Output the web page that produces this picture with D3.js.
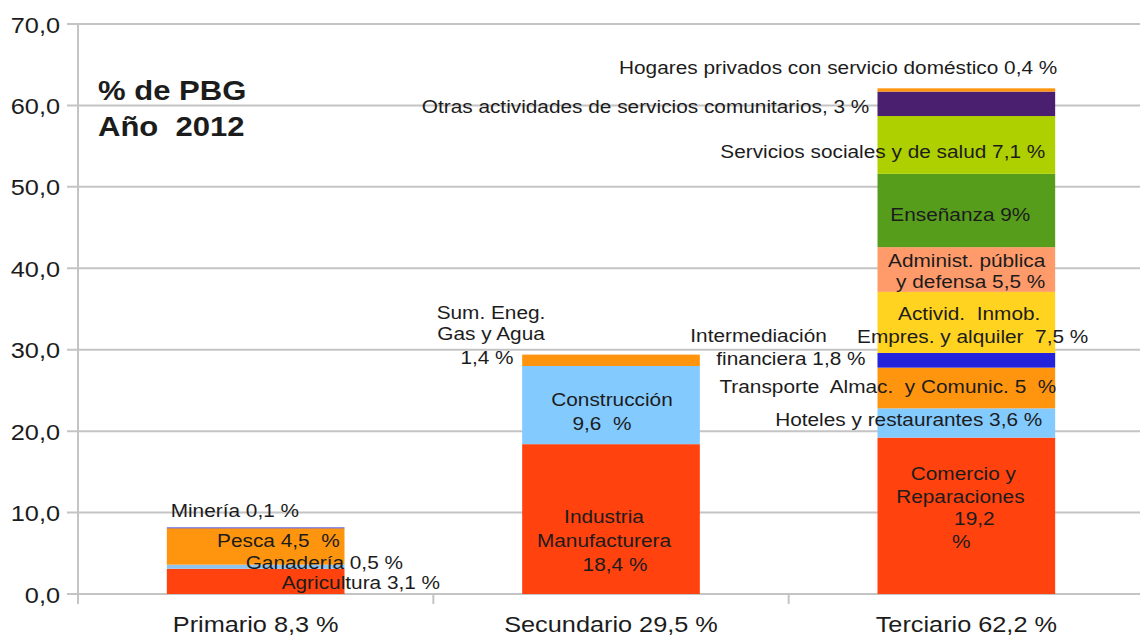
<!DOCTYPE html>
<html>
<head>
<meta charset="utf-8">
<script src="https://cdn.jsdelivr.net/npm/d3@7"></script>
<style>
  body { margin: 0; background: #fff; }
  svg text { font-family: "Liberation Sans", Arial, sans-serif; fill: #1c1c1c; white-space: pre; }
</style>
</head>
<body>
<div id="chart"></div>
<script>
// data
var categories = ['Primario 8,3 %', 'Secundario 29,5 %', 'Terciario 62,2 %'];

var primario = ['Agricultura', 'Ganadería', 'Pesca', 'Minería'];
var primarioValues = [3.1, 0.5, 4.5, 0.1];

var secundario = ['Industria', 'Construcción', 'Energía'];
var secundarioValues = [18.4, 9.6, 1.4];

var terciario = ['Comercio', 'Hoteles', 'Transporte', 'Intermediación', 'Inmobiliarias',
  'Administración', 'Enseñanza', 'Servicios sociales', 'Otras', 'Hogares'];
var terciarioValues = [19.2, 3.6, 5, 1.8, 7.5, 5.5, 9, 7.1, 3, 0.4];

var yTicks = [0, 10, 20, 30, 40, 50, 60, 70];

// styles
var colors = {
  'Agricultura': '#ff420e', 'Ganadería': '#8ec4ee', 'Pesca': '#ff950e', 'Minería': '#6f6fe0',
  'Industria': '#ff420e', 'Construcción': '#83caff', 'Energía': '#ff950e',
  'Comercio': '#ff420e', 'Hoteles': '#83caff', 'Transporte': '#ff950e',
  'Intermediación': '#2323dc', 'Inmobiliarias': '#ffd320', 'Administración': '#ff9b6b',
  'Enseñanza': '#579d1c', 'Servicios sociales': '#aecf00', 'Otras': '#4b1f6f', 'Hogares': '#ff950e'
};

// label layout: baseline in axis units (v), horizontal offset from bar centre (dx)
var labels = [
  { cat: 0, v: 9.46, dx: -85, anchor: 'start', text: 'Minería 0,1 %' },
  { cat: 0, v: 5.81, dx: 84, anchor: 'end', text: 'Pesca 4,5  %' },
  { cat: 0, v: 3.11, dx: -10, anchor: 'start', text: 'Ganadería 0,5 %' },
  { cat: 0, v: 0.61, dx: 26, anchor: 'start', text: 'Agricultura 3,1 %' },
  { cat: 1, v: 33.77, dx: -120, anchor: 'middle', text: 'Sum. Eneg.' },
  { cat: 1, v: 31.19, dx: -120, anchor: 'middle', text: 'Gas y Agua' },
  { cat: 1, v: 28.25, dx: -124, anchor: 'middle', text: '1,4 %' },
  { cat: 1, v: 23.09, dx: 1, anchor: 'middle', text: 'Construcción' },
  { cat: 1, v: 20.14, dx: -9, anchor: 'middle', text: '9,6  %' },
  { cat: 1, v: 8.72, dx: -7, anchor: 'middle', text: 'Industria' },
  { cat: 1, v: 5.81, dx: -7, anchor: 'middle', text: 'Manufacturera' },
  { cat: 1, v: 2.86, dx: 4, anchor: 'middle', text: '18,4 %' },
  { cat: 2, v: 63.86, dx: 91, anchor: 'end', text: 'Hogares privados con servicio doméstico 0,4 %' },
  { cat: 2, v: 59.11, dx: -97, anchor: 'end', text: 'Otras actividades de servicios comunitarios, 3 %' },
  { cat: 2, v: 53.54, dx: 79, anchor: 'end', text: 'Servicios sociales y de salud 7,1 %' },
  { cat: 2, v: 45.84, dx: -6, anchor: 'middle', text: 'Enseñanza 9%' },
  { cat: 2, v: 40.19, dx: 79, anchor: 'end', text: 'Administ. pública' },
  { cat: 2, v: 37.54, dx: 79, anchor: 'end', text: 'y defensa 5,5 %' },
  { cat: 2, v: 33.65, dx: 74, anchor: 'end', text: 'Activid.  Inmob.' },
  { cat: 2, v: 30.79, dx: 122, anchor: 'end', text: 'Empres. y alquiler  7,5 %' },
  { cat: 2, v: 30.98, dx: -276, anchor: 'start', text: 'Intermediación' },
  { cat: 2, v: 28.12, dx: -250, anchor: 'start', text: 'financiera 1,8 %' },
  { cat: 2, v: 24.65, dx: 90, anchor: 'end', text: 'Transporte  Almac.  y Comunic. 5  %' },
  { cat: 2, v: 20.63, dx: 76, anchor: 'end', text: 'Hoteles y restaurantes 3,6 %' },
  { cat: 2, v: 14.0, dx: -3, anchor: 'middle', text: 'Comercio y' },
  { cat: 2, v: 11.21, dx: -6, anchor: 'middle', text: 'Reparaciones' },
  { cat: 2, v: 8.47, dx: 8, anchor: 'middle', text: '19,2' },
  { cat: 2, v: 5.65, dx: -5, anchor: 'middle', text: '%' }
];

var W = 1140, H = 639, SX = 1.15, SX_SMALL = 1.125;
var marginLeft = 78, plotTop = 24, plotBottom = 594, plotRight = 1144;

var svg = d3.select('#chart').append('svg')
  .attr('width', W)
  .attr('height', H);

var x = d3.scaleBand().domain(categories).range([marginLeft, plotRight]).paddingInner(0.5).paddingOuter(0.25),
    y = d3.scaleLinear().domain([0, 70]).range([plotBottom, plotTop]);

function label(g, px, py, str, anchor, size, weight, sx) {
  return g.append('text')
    .attr('transform', 'translate(' + px + ',' + py + ') scale(' + (sx || SX) + ',1)')
    .attr('text-anchor', anchor)
    .style('font-size', size + 'px')
    .style('font-weight', weight || 'normal')
    .text(str);
}

// grid
svg.append('g').selectAll('line')
  .data(yTicks)
  .enter().append('line')
  .attr('x1', marginLeft - 11).attr('x2', W)
  .attr('y1', function(d) { return y(d); })
  .attr('y2', function(d) { return y(d); })
  .attr('stroke', '#c4c4c4')
  .attr('stroke-width', 2);

// y axis
var yAxis = svg.append('g')
  .attr('transform', 'translate(' + marginLeft + ',0)')
  .call(d3.axisLeft(y).tickValues(yTicks).tickSize(0).tickPadding(18)
    .tickFormat(function(d) { return d.toFixed(1).replace('.', ','); }));
yAxis.select('.domain').remove();
yAxis.selectAll('text')
  .attr('x', 0).attr('dy', null)
  .attr('transform', 'translate(-18,8) scale(' + SX + ',1)')
  .style('font-size', '22px')
  .attr('fill', '#1c1c1c');

svg.append('line')
  .attr('x1', marginLeft).attr('x2', marginLeft)
  .attr('y1', plotTop).attr('y2', plotBottom + 10)
  .attr('stroke', '#c4c4c4')
  .attr('stroke-width', 2);

// x axis
var xAxis = svg.append('g')
  .attr('transform', 'translate(0,' + plotBottom + ')')
  .call(d3.axisBottom(x).tickSize(0).tickPadding(22));
xAxis.select('.domain').remove();
xAxis.selectAll('text')
  .attr('transform', 'scale(' + SX + ',1)')
  .style('font-size', '22px')
  .attr('fill', '#1c1c1c');

svg.append('g').selectAll('line')
  .data([1, 2])
  .enter().append('line')
  .attr('x1', function(i) { return marginLeft + i * x.step(); })
  .attr('x2', function(i) { return marginLeft + i * x.step(); })
  .attr('y1', plotBottom).attr('y2', plotBottom + 10)
  .attr('stroke', '#c4c4c4')
  .attr('stroke-width', 2);

// stacked bars
var sectors = [
  { names: primario, values: primarioValues },
  { names: secundario, values: secundarioValues },
  { names: terciario, values: terciarioValues }
];

sectors.forEach(function(s, i) {
  var ends = Array.from(d3.cumsum(s.values));
  var segs = s.names.map(function(n, j) {
    return { name: n, y0: ends[j] - s.values[j], y1: ends[j] };
  });
  svg.append('g').selectAll('rect')
    .data(segs)
    .enter().append('rect')
    .attr('x', x(categories[i]))
    .attr('width', x.bandwidth())
    .attr('y', function(d) { return y(d.y1); })
    .attr('height', function(d) { return Math.max(1.2, y(d.y0) - y(d.y1)); })
    .attr('fill', function(d) { return colors[d.name]; });
});

// segment labels
var lg = svg.append('g');
labels.forEach(function(l) {
  var cx = x(categories[l.cat]) + x.bandwidth() / 2;
  label(lg, cx + l.dx, y(l.v), l.text, l.anchor, 18.5, 'normal', SX_SMALL);
});

// title
label(svg, 98, 100, '% de PBG', 'start', 27, 'bold');
label(svg, 98, 136, 'Año  2012', 'start', 27, 'bold');
</script>
</body>
</html>
